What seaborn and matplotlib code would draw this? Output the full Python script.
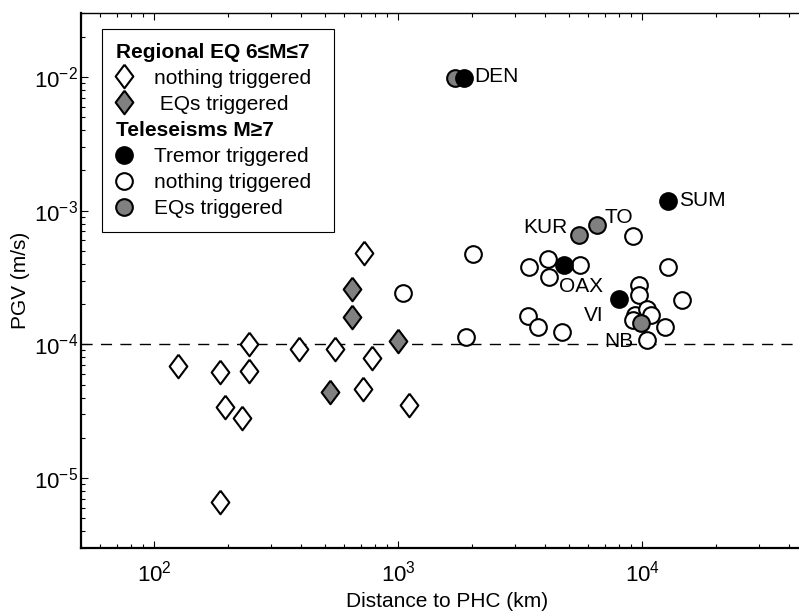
import numpy as np
import matplotlib
matplotlib.use("Agg")
import matplotlib.pyplot as plt
from matplotlib.lines import Line2D
import seaborn as sns

# regional earthquakes 6<=M<=7
regional_none_dist = [125, 186, 243, 243, 195, 229, 186, 393, 552, 725, 782, 719, 1109]
regional_none_pgv = [6.9e-5, 6.2e-5, 1.0e-4, 6.3e-5, 3.4e-5, 2.8e-5, 6.6e-6, 9.2e-5, 9.3e-5,
                     4.8e-4, 7.9e-5, 4.6e-5, 3.5e-5]
regional_eq_dist = [648, 648, 526, 1000]
regional_eq_pgv = [2.6e-4, 1.6e-4, 4.4e-5, 1.05e-4]

# teleseisms M>=7
tele_none_dist = [1047, 2012, 1900, 3413, 4085, 4124, 5527, 3381, 3716, 4662, 9117, 12690,
                  14480, 9647, 9647, 9292, 10400, 10800, 9117, 12380, 10400]
tele_none_pgv = [2.4e-4, 4.7e-4, 1.13e-4, 3.76e-4, 4.38e-4, 3.16e-4, 3.89e-4, 1.62e-4, 1.34e-4,
                 1.23e-4, 6.5e-4, 3.76e-4, 2.13e-4, 2.76e-4, 2.32e-4, 1.67e-4, 1.83e-4, 1.67e-4,
                 1.51e-4, 1.34e-4, 1.07e-4]
tele_eq_names = ['', 'KUR', 'TO', 'NB']
tele_eq_dist = [1713, 5475, 6488, 9831]
tele_eq_pgv = [9.8e-3, 6.6e-4, 7.85e-4, 1.44e-4]
tremor_names = ['DEN', 'SUM', 'OAX', 'VI']
tremor_dist = [1848, 12690, 4750, 7988]
tremor_pgv = [9.8e-3, 1.17e-3, 3.95e-4, 2.2e-4]

pgv_threshold = 1e-4

sns.set_style("ticks")
plt.rcParams['font.family'] = ['Liberation Sans', 'DejaVu Sans']
plt.rcParams['mathtext.fontset'] = 'custom'
plt.rcParams['mathtext.rm'] = 'Liberation Sans'
plt.rcParams['mathtext.default'] = 'regular'
plt.rcParams['axes.unicode_minus'] = False
for k in ['text.color', 'axes.labelcolor', 'xtick.color', 'ytick.color', 'axes.edgecolor']:
    plt.rcParams[k] = 'black'

fig = plt.figure(figsize=(7.99, 6.14), dpi=100)
ax = fig.add_axes([0.1014, 0.1075, 0.9161, 0.8713])
ax.set(xscale='log', yscale='log')

diamond = [(0, 1), (0.75, 0), (0, -1), (-0.75, 0), (0, 1)]
ms_d, ms_o = 17, 12
lw = 1.5

sns.scatterplot(x=regional_none_dist, y=regional_none_pgv, marker=diamond, s=ms_d**2,
                color='white', edgecolor='black', linewidth=lw, ax=ax, zorder=3, legend=False)
sns.scatterplot(x=regional_eq_dist, y=regional_eq_pgv, marker=diamond, s=ms_d**2,
                color='gray', edgecolor='black', linewidth=lw, ax=ax, zorder=3, legend=False)
sns.scatterplot(x=tele_none_dist, y=tele_none_pgv, marker='o', s=ms_o**2,
                color='white', edgecolor='black', linewidth=lw, ax=ax, zorder=3, legend=False)
sns.scatterplot(x=tele_eq_dist, y=tele_eq_pgv, marker='o', s=ms_o**2,
                color='gray', edgecolor='black', linewidth=lw, ax=ax, zorder=4, legend=False)
sns.scatterplot(x=tremor_dist, y=tremor_pgv, marker='o', s=ms_o**2,
                color='black', edgecolor='black', linewidth=lw, ax=ax, zorder=5, legend=False)

ax.axhline(pgv_threshold, color='black', lw=1, dashes=(8, 6), zorder=2)

# label offsets in points
offsets = {'DEN': (8, 1, 'left'), 'SUM': (8, 1, 'left'), 'OAX': (-3, -16, 'left'),
           'VI': (-11, -12, 'right'), 'KUR': (-8, 5, 'right'), 'TO': (6, 5, 'left'),
           'NB': (-5, -13, 'right')}
for names, xs, ys in [(tremor_names, tremor_dist, tremor_pgv),
                      (tele_eq_names, tele_eq_dist, tele_eq_pgv)]:
    for n, xv, yv in zip(names, xs, ys):
        if not n:
            continue
        dx, dy, ha = offsets[n]
        ax.annotate(n, (xv, yv), xytext=(dx, dy), textcoords='offset points',
                    ha=ha, va='center', fontsize=15, zorder=6)

ax.set_xlim(50, 5e4)
ax.set_ylim(3e-6, 3e-2)
ax.set_xlabel('Distance to PHC (km)', fontsize=15, labelpad=4)
ax.set_ylabel('PGV (m/s)', fontsize=15, labelpad=3)

ax.tick_params(which='both', direction='in', top=True, right=False, width=0.8)
ax.tick_params(which='major', length=5, labelsize=16)
ax.tick_params(axis='x', which='major', pad=9)
ax.tick_params(axis='y', which='major', pad=2)
ax.tick_params(which='minor', length=3)
for s in ['left', 'bottom']:
    ax.spines[s].set_linewidth(1.6)
ax.spines['top'].set_linewidth(1.0)
ax.spines['right'].set_visible(False)

headers = ['Regional EQ 6≤M≤7  ', 'Teleseisms M≥7']
blank = Line2D([], [], linestyle='none')
handles = [
    blank,
    Line2D([], [], ls='none', marker=diamond, ms=ms_d, mfc='white', mec='black', mew=lw),
    Line2D([], [], ls='none', marker=diamond, ms=ms_d, mfc='gray', mec='black', mew=lw),
    blank,
    Line2D([], [], ls='none', marker='o', ms=ms_o, mfc='black', mec='black', mew=lw),
    Line2D([], [], ls='none', marker='o', ms=ms_o, mfc='white', mec='black', mew=lw),
    Line2D([], [], ls='none', marker='o', ms=ms_o, mfc='gray', mec='black', mew=lw),
]
labels = [headers[0], 'nothing triggered', ' EQs triggered',
          headers[1], 'Tremor triggered', 'nothing triggered', 'EQs triggered']
leg = ax.legend(handles, labels, loc='upper left', bbox_to_anchor=(0.0287, 0.970),
                borderaxespad=0, fontsize=15, frameon=True, fancybox=False,
                edgecolor='black', framealpha=1, borderpad=0.65, labelspacing=0.34,
                handlelength=0.8, handletextpad=1.05)
leg.get_frame().set_linewidth(0.8)
# header rows: bold text, no room for a handle
for col in leg._legend_handle_box.get_children():
    for row in col.get_children():
        da, ta = row.get_children()
        if ta._text.get_text() in headers:
            ta._text.set_fontweight('bold')
            da.width = 0
            row.sep = 0

fig.savefig('out.png', dpi=100)
